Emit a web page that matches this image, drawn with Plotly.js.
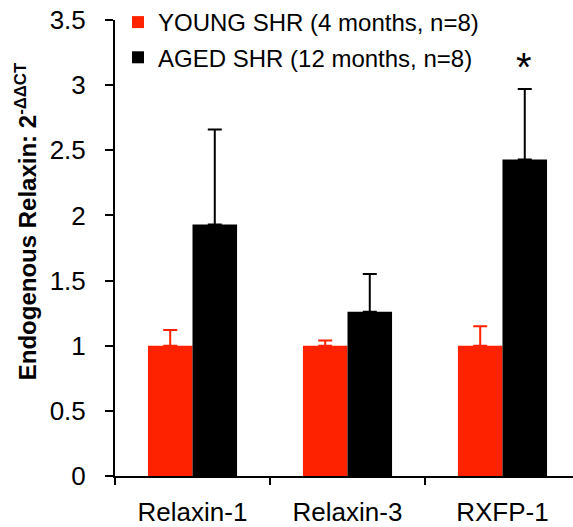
<!DOCTYPE html>
<html>
<head>
<meta charset="utf-8">
<script src="https://cdn.plot.ly/plotly-3.0.1.min.js"></script>
<style>html,body{margin:0;padding:0;background:#fff;}#chart{width:573px;height:527px;}</style>
</head>
<body>
<div id="chart"></div>
<script>
const categories = ["Relaxin-1", "Relaxin-3", "RXFP-1"];
const youngName = "YOUNG SHR (4 months, n=8)";
const agedName = "AGED SHR (12 months, n=8)";
const youngValues = [1.0, 1.0, 1.0];
const youngErrors = [0.12, 0.04, 0.15];
const agedValues = [1.93, 1.26, 2.43];
const agedErrors = [0.73, 0.29, 0.54];
const significance = ["", "", "*"];
const yTickValues = [0, 0.5, 1, 1.5, 2, 2.5, 3, 3.5];
const yTickLabels = ["0", "0.5", "1", "1.5", "2", "2.5", "3", "3.5"];
const yTitle = "<b>Endogenous Relaxin: 2<sup>-ΔΔCT</sup></b>";

const FONT = "Liberation Sans, Arial, sans-serif";

const traces = [
  {
    type: "bar", name: youngName, x: categories, y: youngValues, legendgroup: "young",
    marker: {color: "#ff2200"},
    error_y: {type: "data", array: youngErrors, arrayminus: youngValues.map(() => 0), symmetric: false,
              color: "#ff2200", thickness: 2, width: 7}
  },
  {
    type: "bar", name: agedName, x: categories, y: agedValues, legendgroup: "aged",
    marker: {color: "#000000"},
    error_y: {type: "data", array: agedErrors, arrayminus: agedValues.map(() => 0), symmetric: false,
              color: "#000000", thickness: 2, width: 7}
  }
];

const annotations = [];
categories.forEach((c, i) => {
  if (significance[i]) {
    annotations.push({
      x: c, y: agedValues[i] + agedErrors[i], xref: "x", yref: "y",
      text: significance[i], showarrow: false, xanchor: "center", yanchor: "bottom",
      xshift: 22, yshift: -2, font: {family: FONT, size: 40, color: "#000"}
    });
  }
});
annotations.push({
  text: yTitle, xref: "paper", yref: "paper", x: -0.194, y: 0.559,
  xanchor: "center", yanchor: "middle", textangle: -90, showarrow: false,
  font: {family: FONT, size: 24, color: "#000"}
});

const layout = {
  width: 573, height: 527,
  margin: {l: 115, r: 0, t: 20, b: 51, pad: 0, autoexpand: false},
  paper_bgcolor: "#fff", plot_bgcolor: "#fff",
  barmode: "group", bargap: 0.425, bargroupgap: 0,
  showlegend: true,
  legend: {
    x: 0.0066, xanchor: "left", y: 1.0076, yanchor: "top",
    xref: "paper", yref: "container",
    font: {family: FONT, size: 24, color: "#000"},
    bgcolor: "rgba(0,0,0,0)", tracegroupgap: 1, itemwidth: 30,
    traceorder: "grouped"
  },
  xaxis: {
    type: "category", range: [-0.5, 2.455],
    showline: true, linecolor: "#000", linewidth: 2,
    ticks: "outside", tickson: "boundaries", ticklen: 7, tickwidth: 2, tickcolor: "#000",
    tickfont: {family: FONT, size: 26, color: "#000"},
    ticklabelstandoff: 12,
    showgrid: false, zeroline: false, fixedrange: true
  },
  yaxis: {
    range: [0, 3.5], tickmode: "array", tickvals: yTickValues, ticktext: yTickLabels,
    showline: true, linecolor: "#000", linewidth: 2,
    ticks: "outside", ticklen: 8, tickwidth: 2, tickcolor: "#000",
    tickfont: {family: FONT, size: 26, color: "#000"},
    ticklabelstandoff: 14,
    showgrid: false, zeroline: false, fixedrange: true
  },
  annotations: annotations
};

Plotly.newPlot("chart", traces, layout, {displayModeBar: false, staticPlot: true});
</script>
</body>
</html>
